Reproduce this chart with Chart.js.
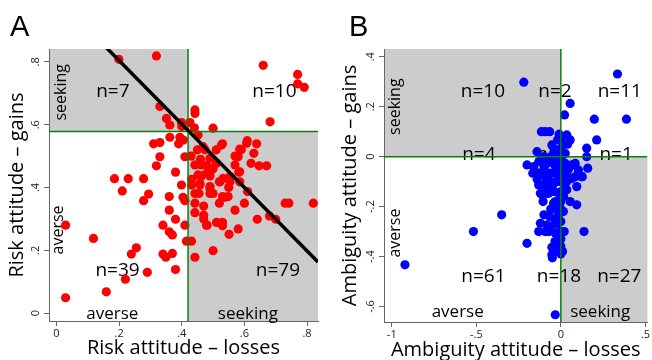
<!DOCTYPE html>
<html><head><meta charset="utf-8">
<script src="https://cdn.jsdelivr.net/npm/chart.js@4.4.0/dist/chart.umd.min.js"></script>
<style>
html,body{margin:0;padding:0;background:#fff;width:652px;height:360px;overflow:hidden}
canvas{position:absolute;top:0}
#cA{left:0}
#cB{left:326px}
</style></head><body>
<canvas id="cA" width="326" height="360"></canvas>
<canvas id="cB" width="326" height="360"></canvas>
<script>
// ---------- Panel A: risk attitude ----------
const riskLosses = [
0.199,0.319,0.33,0.351,0.362,0.399,0.40,
0.66,0.77,0.77,0.791,0.682,0.442,0.442,0.426,0.50,0.44,
0.362,0.394,0.31,0.33,0.39,0.405,0.33,0.41,0.319,0.38,0.185,0.229,0.278,0.21,0.294,0.278,0.399,0.41,0.36,0.36,
0.38,0.34,0.36,0.37,0.41,0.415,0.255,0.239,0.34,0.37,0.349,0.38,0.29,0.22,0.159,0.029,0.029,0.118,0.404,
0.452,0.468,0.53,0.609,0.639,0.59,0.63,0.57,0.621,0.647,0.671,0.582,0.45,0.474,0.49,0.463,0.442,0.479,0.452,0.495,
0.511,0.527,0.532,0.522,0.458,0.49,0.554,0.58,0.57,0.585,0.585,0.607,0.50,0.50,0.551,0.58,0.481,0.511,0.53,0.53,
0.47,0.47,0.442,0.57,0.641,0.68,0.70,0.60,0.73,0.742,0.82,0.61,0.52,0.548,0.53,0.49,0.49,0.47,0.442,0.455,
0.442,0.431,0.458,0.431,0.463,0.49,0.52,0.554,0.585,0.431,0.442,0.479,0.538,0.43,0.46,0.50,0.51,0.55,0.48
];
const riskGains = [
0.808,0.819,0.658,0.62,0.599,0.607,0.594,
0.789,0.76,0.73,0.719,0.609,0.647,0.636,0.607,0.589,0.59,
0.56,0.56,0.539,0.543,0.539,0.551,0.498,0.498,0.469,0.449,0.428,0.428,0.428,0.389,0.379,0.358,0.408,0.358,0.371,0.328,
0.299,0.28,0.259,0.249,0.28,0.229,0.208,0.188,0.188,0.19,0.178,0.139,0.13,0.108,0.068,0.049,0.28,0.238,0.369,
0.567,0.53,0.539,0.549,0.539,0.52,0.509,0.50,0.477,0.469,0.469,0.449,0.52,0.52,0.493,0.472,0.472,0.445,0.44,0.456,
0.477,0.535,0.429,0.418,0.413,0.403,0.435,0.498,0.472,0.45,0.522,0.541,0.381,0.199,0.251,0.268,0.28,0.289,0.289,0.278,
0.30,0.312,0.32,0.328,0.299,0.309,0.299,0.35,0.35,0.35,0.35,0.387,0.35,0.371,0.371,0.381,0.397,0.341,0.35,0.381,
0.381,0.408,0.408,0.426,0.437,0.437,0.418,0.418,0.418,0.229,0.178,0.28,0.369,0.50,0.49,0.46,0.52,0.40,0.47
];
const riskCutLosses = 0.42;
const riskCutGains = 0.578;
const riskFitIntercept = 1.006;
const riskFitSlope = -1.01;
const riskTickValues = [0, 0.2, 0.4, 0.6, 0.8];
const riskTickLabels = ['0', '.2', '.4', '.6', '.8'];
const riskNotes = ['seeking', 'averse', 'n=7', 'n=10', 'n=39', 'n=79', 'averse', 'seeking'];
const riskNoteX = [0.016, 0.005, 0.18, 0.696, 0.195, 0.707, 0.178, 0.611];
const riskNoteY = [0.703, 0.265, 0.6875, 0.6875, 0.118, 0.118, -0.02, -0.018];

// ---------- Panel B: ambiguity attitude ----------
const ambLosses = [
-0.219,-0.115,-0.092,-0.066,-0.053,-0.141,-0.033,-0.02,-0.04,-0.01,
0,0,
0.335,0.055,0.022,0.198,0.388,0.212,0.035,0.055,0.153,0.026,0.04,
-0.1,-0.03,-0.06,-0.015,
0,
0.153,
-0.2,-0.121,-0.166,-0.131,-0.111,-0.072,-0.053,-0.082,-0.023,-0.013,-0.131,-0.092,-0.111,-0.121,-0.082,-0.072,
-0.043,-0.043,-0.033,-0.023,-0.1,-0.121,-0.082,-0.131,-0.092,-0.072,-0.053,-0.033,-0.013,-0.013,-0.033,-0.35,
-0.517,-0.2,-0.922,-0.033,-0.053,-0.043,-0.013,-0.053,-0.05,-0.092,-0.131,-0.16,-0.06,-0.02,-0.05,-0.01,-0.06,
-0.03,-0.015,-0.10,-0.14,-0.035,-0.02,-0.065,-0.105,-0.01,-0.04,-0.09,-0.03,
0,0,0,0,0,0,0,0,0,0,0,0,
0.159,0.104,0.127,0.094,0.055,0.094,0.137,0.016,0.035,0.065,0.026,0.016,0.085,0.065,0.085,0.123,0.035,0.035,
0.026,0.015,0.02,0.045,0.01
];
const ambGains = [
0.298,0.10,0.10,0.10,0.047,0.02,0.016,0.067,0.03,0.09,
0.067,0.033,
0.331,0.213,0.167,0.15,0.15,0.067,0.087,0.067,0.034,0.013,0.05,
0,0,0,0,
0,
0,
-0.033,-0.02,-0.066,-0.066,-0.066,-0.066,-0.066,-0.027,-0.013,-0.053,-0.113,-0.107,-0.153,-0.147,-0.147,-0.147,
-0.14,-0.187,-0.18,-0.213,-0.233,-0.267,-0.273,-0.30,-0.30,-0.30,-0.28,-0.253,-0.307,-0.233,-0.307,-0.233,
-0.30,-0.347,-0.433,-0.633,-0.363,-0.373,-0.38,-0.393,-0.405,-0.08,-0.02,-0.04,-0.10,-0.10,-0.12,-0.15,-0.21,
-0.04,-0.08,-0.045,-0.09,-0.34,-0.27,-0.24,-0.18,-0.20,-0.03,-0.12,-0.36,
-0.05,-0.10,-0.14,-0.18,-0.21,-0.26,-0.30,-0.33,-0.36,-0.39,-0.02,-0.07,
-0.046,-0.053,-0.08,-0.12,-0.18,-0.193,-0.30,-0.04,-0.073,-0.087,-0.127,-0.16,-0.027,-0.033,-0.08,-0.08,-0.1,-0.133,
-0.027,-0.22,-0.3,-0.05,-0.38
];
const ambCutLosses = 0;
const ambCutGains = 0;
const ambXTickValues = [-1, -0.5, 0, 0.5];
const ambXTickLabels = ['-1', '-.5', '0', '.5'];
const ambYTickValues = [-0.6, -0.4, -0.2, 0, 0.2, 0.4];
const ambYTickLabels = ['-.6', '-.4', '-.2', '0', '.2', '.4'];
const ambNotes = ['seeking', 'averse', 'n=10', 'n=2', 'n=11', 'n=4', 'n=1', 'n=1', 'n=61', 'n=18', 'n=27', 'averse', 'seeking'];
const ambNoteX = [-0.977, -0.98, -0.461, -0.035, 0.349, -0.485, -0.045, 0.327, -0.458, -0.011, 0.346, -0.61, 0.233];
const ambNoteY = [0.2, -0.306, 0.238, 0.238, 0.238, -0.013, -0.013, -0.013, -0.5, -0.5, -0.5, -0.64, -0.64];

// ---------- drawing ----------
const FAMILY = '"Open Sans", sans-serif';
const GRAY = '#cccccc';
const GREEN = '#0a7f0a';
const AXIS = '#666666';

function makePanel(canvasId, cfg) {
  const quadPlugin = {
    id: 'quad',
    beforeDraw(chart) {
      const {ctx, chartArea: a, scales: {x, y}} = chart;
      const cx = x.getPixelForValue(cfg.cutX), cy = y.getPixelForValue(cfg.cutY);
      ctx.save();
      ctx.fillStyle = GRAY;
      ctx.fillRect(a.left, a.top, cx - a.left, cy - a.top);
      ctx.fillRect(cx, cy, a.right - cx, a.bottom - cy);
      ctx.restore();
    }
  };
  const notePlugin = {
    id: 'notes',
    beforeDatasetsDraw(chart) {
      const {ctx, scales: {x, y}} = chart;
      ctx.save();
      ctx.fillStyle = '#000';
      ctx.textAlign = 'center';
      cfg.notes.forEach((t, i) => {
        const px = x.getPixelForValue(cfg.noteX[i]), py = y.getPixelForValue(cfg.noteY[i]);
        const rotated = (t === 'seeking' || t === 'averse') && i < 2;
        ctx.save();
        ctx.translate(px, py);
        if (rotated) {
          ctx.rotate(-Math.PI / 2);
          ctx.textBaseline = 'middle';
          ctx.font = '16px ' + FAMILY;
        } else if (t.startsWith('n=')) {
          ctx.textBaseline = 'alphabetic';
          ctx.font = '19px ' + FAMILY;
        } else {
          ctx.textBaseline = 'alphabetic';
          ctx.font = '17px ' + FAMILY;
        }
        ctx.fillText(t, 0, 0);
        ctx.restore();
      });
      ctx.restore();
    },
    afterDraw(chart) {
      const ctx = chart.ctx;
      ctx.save();
      ctx.fillStyle = '#000';
      ctx.font = '29px "Liberation Sans", Arial, sans-serif';
      ctx.textAlign = 'left';
      ctx.textBaseline = 'alphabetic';
      ctx.fillText(cfg.letter, cfg.letterX, 36);
      ctx.restore();
    }
  };

  const datasets = [
    {
      type: 'scatter',
      data: cfg.xs.map((v, i) => ({x: v, y: cfg.ys[i]})),
      pointRadius: 4.6,
      pointHoverRadius: 4.6,
      pointBackgroundColor: cfg.color,
      pointBorderWidth: 0,
      borderWidth: 0,
      order: 3
    },
    {
      type: 'line',
      data: [{x: cfg.cutX, y: cfg.yMin}, {x: cfg.cutX, y: cfg.yMax}],
      borderColor: GREEN, borderWidth: 1.5, pointRadius: 0, fill: false, order: 2
    },
    {
      type: 'line',
      data: [{x: cfg.xMin, y: cfg.cutY}, {x: cfg.xMax, y: cfg.cutY}],
      borderColor: GREEN, borderWidth: 1.5, pointRadius: 0, fill: false, order: 2
    }
  ];
  if (cfg.fit) {
    datasets.push({
      type: 'line',
      data: [cfg.xMin, cfg.xMax].map(v => ({x: v, y: cfg.fit.a + cfg.fit.b * v})),
      borderColor: '#000', borderWidth: 3.5, pointRadius: 0, fill: false, order: 1
    });
  }

  const tickLabel = (vals, labs) => (value) => {
    const i = vals.findIndex(v => Math.abs(v - value) < 1e-9);
    return i >= 0 ? labs[i] : '';
  };

  return new Chart(document.getElementById(canvasId), {
    type: 'scatter',
    data: {datasets},
    plugins: [quadPlugin, notePlugin],
    options: {
      responsive: false,
      animation: false,
      events: [],
      layout: {padding: {top: 49, right: cfg.padRight, left: 0, bottom: 0}},
      plugins: {legend: {display: false}, tooltip: {enabled: false}},
      scales: {
        x: {
          type: 'linear', min: cfg.xMin, max: cfg.xMax,
          afterBuildTicks: s => { s.ticks = cfg.xTicks.map(v => ({value: v})); },
          afterFit: s => { s.height = cfg.xAxisH; s.paddingLeft = 0; s.paddingRight = 0; },
          ticks: {
            autoSkip: false, maxRotation: 0, minRotation: 0, padding: 1,
            font: {family: FAMILY, size: 11}, color: '#222',
            callback: tickLabel(cfg.xTicks, cfg.xTickLabels)
          },
          grid: {drawOnChartArea: false, drawTicks: true, tickLength: 5, color: AXIS, tickColor: AXIS, tickWidth: 1},
          border: {display: true, color: AXIS, width: 1},
          title: {display: true, text: cfg.xTitle, color: '#000', font: {family: FAMILY, size: 20}, padding: {top: 0, bottom: cfg.xTitlePad}}
        },
        y: {
          type: 'linear', min: cfg.yMin, max: cfg.yMax,
          afterBuildTicks: s => { s.ticks = cfg.yTicks.map(v => ({value: v})); },
          afterFit: s => { s.width = cfg.yAxisW; s.paddingTop = 0; s.paddingBottom = 0; },
          ticks: {
            autoSkip: false, minRotation: 90, maxRotation: 90, crossAlign: 'center', padding: cfg.yTickPad,
            font: {family: FAMILY, size: 11}, color: '#222',
            callback: tickLabel(cfg.yTicks, cfg.yTickLabels)
          },
          grid: {drawOnChartArea: false, drawTicks: true, tickLength: 5, color: AXIS, tickColor: AXIS, tickWidth: 1},
          border: {display: true, color: AXIS, width: 1},
          title: {display: true, text: cfg.yTitle, color: '#000', font: {family: FAMILY, size: 20}, padding: {top: cfg.yTitlePad, bottom: 0}}
        }
      }
    }
  });
}

makePanel('cA', {
  xs: riskLosses, ys: riskGains, color: '#ff0000',
  xMin: -0.024, xMax: 0.835, yMin: -0.025, yMax: 0.841,
  cutX: riskCutLosses, cutY: riskCutGains,
  fit: {a: riskFitIntercept, b: riskFitSlope},
  xTicks: riskTickValues, xTickLabels: riskTickLabels,
  yTicks: riskTickValues, yTickLabels: riskTickLabels,
  notes: riskNotes, noteX: riskNoteX, noteY: riskNoteY,
  xTitle: 'Risk attitude \u2013 losses', yTitle: 'Risk attitude \u2013 gains',
  letter: 'A', letterX: 10,
  yAxisW: 49, xAxisH: 39, padRight: 8, yTickPad: 4, yTitlePad: 5, xTitlePad: 0
});

makePanel('cB', {
  xs: ambLosses, ys: ambGains, color: '#0000ff',
  xMin: -1.046, xMax: 0.512, yMin: -0.662, yMax: 0.431,
  cutX: ambCutLosses, cutY: ambCutGains,
  fit: null,
  xTicks: ambXTickValues, xTickLabels: ambXTickLabels,
  yTicks: ambYTickValues, yTickLabels: ambYTickLabels,
  notes: ambNotes, noteX: ambNoteX, noteY: ambNoteY,
  xTitle: 'Ambiguity attitude \u2013 losses', yTitle: 'Ambiguity attitude \u2013 gains',
  letter: 'B', letterX: 23,
  yAxisW: 58, xAxisH: 38, padRight: 2, yTickPad: 2, yTitlePad: 12, xTitlePad: -2
});
</script>
</body></html>
